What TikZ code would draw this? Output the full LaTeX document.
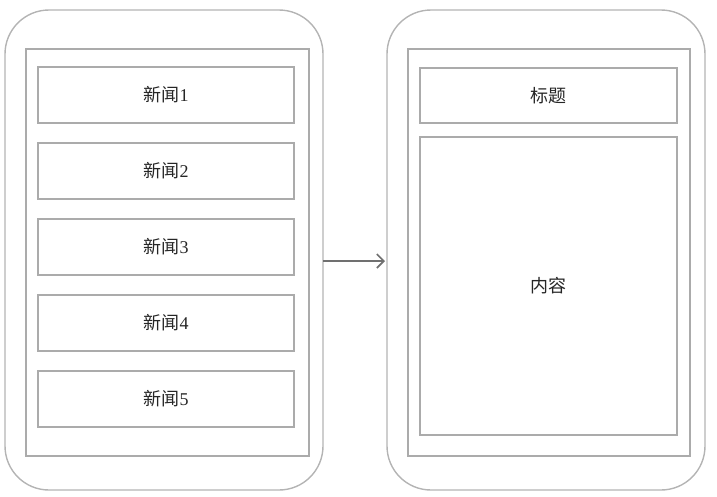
\documentclass[tikz,border=0pt]{standalone}
\usepackage{fontspec}
\setmainfont{Liberation Serif}
\newfontfamily\cjk{Noto Sans CJK SC}
\usetikzlibrary{arrows.meta}
\definecolor{frame}{HTML}{B4B4B4}
\definecolor{boxc}{HTML}{ABABAB}
\definecolor{arr}{HTML}{707070}
\tikzset{
  phone/.style={draw=frame, line width=1.4pt, rounded corners=44pt},
  screen/.style={draw=boxc, line width=2pt},
  item/.style={draw=boxc, line width=2pt, fill=white},
  lbl/.style={font=\fontsize{18}{21}\selectfont, text=black!85},
}
\begin{document}
\begin{tikzpicture}[x=1pt,y=-1pt]
\useasboundingbox (0,0) rectangle (717,496);
% left phone
\draw[phone] (5,10) rectangle (323,490);
\node[screen, minimum width=283pt, minimum height=407pt, anchor=north west, inner sep=0pt] (lscreen) at (25,48) {};
\foreach \i/\y in {1/66,2/142,3/218,4/294,5/370}{
  \node[item, minimum width=256pt, minimum height=56pt, anchor=north west, inner sep=0pt] (n\i) at (37,\y) {};
  \node[lbl] (t\i) at (n\i.center) {{\cjk 新闻}\i};
}
% right phone
\draw[phone] (387,10) rectangle (705,490);
\node[screen, minimum width=282pt, minimum height=407pt, anchor=north west, inner sep=0pt] (rscreen) at (407,48) {};
\node[item, minimum width=257pt, minimum height=55pt, anchor=north west, inner sep=0pt] (title) at (419,67) {};
\node[lbl] at (title.center) {\cjk 标题};
\node[item, minimum width=257pt, minimum height=298pt, anchor=north west, inner sep=0pt] (content) at (419,136) {};
\node[lbl] at (content.center) {\cjk 内容};
% arrow
\coordinate (a1) at (323,261);
\coordinate (a2) at (385,261);
\draw[arr, line width=1.6pt, -{Straight Barb[length=7pt,width=14pt]}] (a1) -- (a2);
\end{tikzpicture}
\end{document}
